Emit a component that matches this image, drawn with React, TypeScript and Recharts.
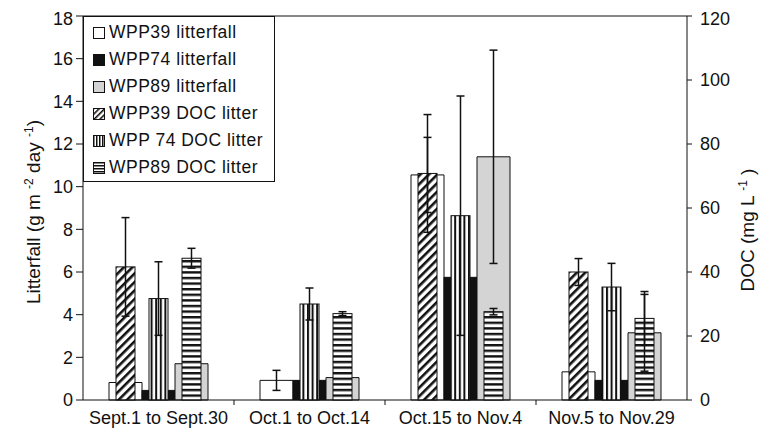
import {
  Bar,
  ComposedChart,
  ErrorBar,
  ReferenceLine,
  XAxis,
  YAxis,
} from "recharts";

const categories = ["Sept.1 to Sept.30", "Oct.1 to Oct.14", "Oct.15 to Nov.4", "Nov.5 to Nov.29"];

// litterfall, g m-2 day-1 (left axis)
const wpp39Litter = [0.82, 0.92, 10.55, 1.32];
const wpp74Litter = [0.45, 0.92, 5.75, 0.92];
const wpp89Litter = [1.7, 1.05, 11.4, 3.15];
const wpp39LitterErr = [null, 0.47, 1.76, null];
const wpp74LitterErr = [null, null, null, null];
const wpp89LitterErr = [null, null, 5.0, 1.8];

// DOC in litter, mg L-1 (right axis)
const wpp39Doc = [41.6, null, 70.8, 40.0];
const wpp74Doc = [31.7, 30.0, 57.6, 35.3];
const wpp89Doc = [44.3, 27.0, 27.6, 25.5];
const wpp39DocErr = [15.4, null, 18.4, 4.2];
const wpp74DocErr = [11.5, 5.0, 37.4, 7.4];
const wpp89DocErr = [3.1, 0.6, 1.0, 8.4];

const leftTicks = [0, 2, 4, 6, 8, 10, 12, 14, 16, 18];
const rightTicks = [0, 20, 40, 60, 80, 100, 120];

const legendItems = [
  { name: "WPP39 litterfall", swatch: "white" },
  { name: "WPP74 litterfall", swatch: "black" },
  { name: "WPP89 litterfall", swatch: "gray" },
  { name: "WPP39 DOC litter", swatch: "diag" },
  { name: "WPP 74 DOC litter", swatch: "vert" },
  { name: "WPP89 DOC litter", swatch: "horiz" },
];

const data = categories.map((name, i) => ({
  name,
  l39: wpp39Litter[i],
  l74: wpp74Litter[i],
  l89: wpp89Litter[i],
  el39: wpp39LitterErr[i],
  el74: wpp74LitterErr[i],
  el89: wpp89LitterErr[i],
  d39: wpp39Doc[i],
  d74: wpp74Doc[i],
  d89: wpp89Doc[i],
  ed39: wpp39DocErr[i],
  ed74: wpp74DocErr[i],
  ed89: wpp89DocErr[i],
}));

const INK = "#111";
const GRAY = "#d4d4d4";
const FONT = "'Liberation Sans', Arial, sans-serif";

function NarrowBar(props: any) {
  const { x, y, width, height, fill } = props;
  if (height == null || !width) return null;
  const w = 19;
  return (
    <rect
      x={x + (width - w) / 2}
      y={y}
      width={w}
      height={height}
      fill={fill}
      stroke={INK}
      strokeWidth={1}
    />
  );
}

// category label plus a short tick mark on the boundary to the next category
function CategoryTick(props: any) {
  const { x, y, payload, index, visibleTicksCount, width } = props;
  const band = (Number(width) || 0) / (visibleTicksCount || 1);
  const edge = x + band / 2;
  return (
    <g>
      <text x={x} y={y + 11} dy="0.71em" textAnchor="middle" fontSize={18} fill={INK} fontFamily={FONT}>
        {payload.value}
      </text>
      {index < visibleTicksCount - 1 && band > 0 && (
        <line x1={edge} x2={edge} y1={y} y2={y + 5} stroke={INK} />
      )}
    </g>
  );
}

function LeftLabel({ viewBox }: any) {
  const cx = viewBox.x + 32;
  const cy = viewBox.y + viewBox.height / 2 + 4;
  return (
    <text
      x={cx}
      y={cy}
      transform={`rotate(-90 ${cx} ${cy})`}
      textAnchor="middle"
      fontSize={19}
      fill={INK}
      fontFamily={FONT}
    >
      Litterfall (g m <tspan baselineShift="super" fontSize={12}>-2</tspan> day{" "}
      <tspan baselineShift="super" fontSize={12}>-1</tspan>)
    </text>
  );
}

function RightLabel({ viewBox }: any) {
  const cx = viewBox.x + 67;
  const cy = viewBox.y + viewBox.height / 2 + 22;
  return (
    <text
      x={cx}
      y={cy}
      transform={`rotate(-90 ${cx} ${cy})`}
      textAnchor="middle"
      fontSize={19}
      fill={INK}
      fontFamily={FONT}
    >
      DOC (mg L <tspan baselineShift="super" fontSize={12}>-1</tspan> )
    </text>
  );
}

function Swatch({ kind }: { kind: string }) {
  let fill = "white";
  if (kind === "black") fill = INK;
  if (kind === "gray") fill = GRAY;
  if (kind === "diag") fill = "url(#lg-diag)";
  if (kind === "vert") fill = "url(#lg-vert)";
  if (kind === "horiz") fill = "url(#lg-horiz)";
  return (
    <svg width={12} height={12} style={{ display: "block" }}>
      <rect x={0.5} y={0.5} width={11} height={11} fill={fill} stroke={INK} strokeWidth={1} />
    </svg>
  );
}

function LegendBox() {
  return (
    <div
      style={{
        position: "absolute",
        left: 75,
        top: 8,
        width: 192,
        height: 166,
        border: `1px solid ${INK}`,
        background: "white",
        boxSizing: "border-box",
        paddingTop: 2,
        fontFamily: FONT,
        fontSize: 17.5,
        letterSpacing: 0.5,
        color: INK,
      }}
    >
      <svg width={0} height={0} style={{ position: "absolute" }}>
        <defs>
          <pattern id="lg-diag" patternUnits="userSpaceOnUse" width={4} height={4} patternTransform="rotate(45)">
            <rect width={4} height={4} fill="white" />
            <rect width={1.6} height={4} fill={INK} />
          </pattern>
          <pattern id="lg-vert" patternUnits="userSpaceOnUse" width={3} height={3}>
            <rect width={3} height={3} fill="white" />
            <rect width={1.5} height={3} fill={INK} />
          </pattern>
          <pattern id="lg-horiz" patternUnits="userSpaceOnUse" width={3} height={3}>
            <rect width={3} height={3} fill="white" />
            <rect width={3} height={1.5} fill={INK} />
          </pattern>
        </defs>
      </svg>
      {legendItems.map((item) => (
        <div key={item.name} style={{ display: "flex", alignItems: "center", height: 27 }}>
          <div style={{ width: 9 }} />
          <Swatch kind={item.swatch} />
          <span style={{ marginLeft: 4, whiteSpace: "nowrap" }}>{item.name}</span>
        </div>
      ))}
    </div>
  );
}

export default function App() {
  const tickStyle = { fontSize: 18, fill: INK, fontFamily: FONT };
  return (
    <div style={{ position: "relative", width: 766, height: 430 }}>
      <ComposedChart
        width={766}
        height={430}
        data={data}
        barGap={0}
        margin={{ top: 8, right: 0, bottom: 8, left: 0 }}
      >
        <defs>
          <pattern id="diag" patternUnits="userSpaceOnUse" width={6} height={6} patternTransform="rotate(45)">
            <rect width={6} height={6} fill="white" />
            <rect width={2.6} height={6} fill={INK} />
          </pattern>
          <pattern id="vert" patternUnits="userSpaceOnUse" width={4.6} height={4.6}>
            <rect width={4.6} height={4.6} fill="white" />
            <rect width={2} height={4.6} fill={INK} />
          </pattern>
          <pattern id="horiz" patternUnits="userSpaceOnUse" width={5.6} height={5.6}>
            <rect width={5.6} height={5.6} fill="white" />
            <rect width={5.6} height={2.4} fill={INK} />
          </pattern>
        </defs>
        <XAxis
          xAxisId="lit"
          dataKey="name"
          tickLine={false}
          tickSize={0}
          tickMargin={0}
          axisLine={{ stroke: INK }}
          tick={<CategoryTick />}
          height={30}
        />
        <XAxis xAxisId="zdoc" dataKey="name" hide />
        <YAxis
          yAxisId="left"
          domain={[0, 18]}
          ticks={leftTicks}
          width={75}
          axisLine={{ stroke: INK }}
          tickLine={{ stroke: INK }}
          tickSize={7}
          tickMargin={3}
          tick={tickStyle}
          label={{ content: <LeftLabel /> }}
        />
        <YAxis
          yAxisId="right"
          orientation="right"
          domain={[0, 120]}
          ticks={rightTicks}
          width={87}
          axisLine={{ stroke: INK }}
          tickLine={{ stroke: INK }}
          tickSize={5}
          tickMargin={8}
          tick={tickStyle}
          label={{ content: <RightLabel /> }}
        />
        <ReferenceLine yAxisId="left" xAxisId="lit" y={18} stroke={INK} />

        <Bar xAxisId="lit" yAxisId="left" dataKey="l39" name="WPP39 litterfall" fill="white" stroke={INK} barSize={33} isAnimationActive={false}>
          <ErrorBar dataKey="el39" width={4} stroke={INK} />
        </Bar>
        <Bar xAxisId="lit" yAxisId="left" dataKey="l74" name="WPP74 litterfall" fill={INK} stroke={INK} barSize={33} isAnimationActive={false}>
          <ErrorBar dataKey="el74" width={4} stroke={INK} />
        </Bar>
        <Bar xAxisId="lit" yAxisId="left" dataKey="l89" name="WPP89 litterfall" fill={GRAY} stroke={INK} barSize={33} isAnimationActive={false}>
          <ErrorBar dataKey="el89" width={4} stroke={INK} />
        </Bar>

        <Bar xAxisId="zdoc" yAxisId="right" dataKey="d39" name="WPP39 DOC litter" fill="url(#diag)" barSize={33} shape={<NarrowBar />} isAnimationActive={false}>
          <ErrorBar dataKey="ed39" width={4} stroke={INK} />
        </Bar>
        <Bar xAxisId="zdoc" yAxisId="right" dataKey="d74" name="WPP 74 DOC litter" fill="url(#vert)" barSize={33} shape={<NarrowBar />} isAnimationActive={false}>
          <ErrorBar dataKey="ed74" width={4} stroke={INK} />
        </Bar>
        <Bar xAxisId="zdoc" yAxisId="right" dataKey="d89" name="WPP89 DOC litter" fill="url(#horiz)" barSize={33} shape={<NarrowBar />} isAnimationActive={false}>
          <ErrorBar dataKey="ed89" width={4} stroke={INK} />
        </Bar>
      </ComposedChart>
      <LegendBox />
    </div>
  );
}
